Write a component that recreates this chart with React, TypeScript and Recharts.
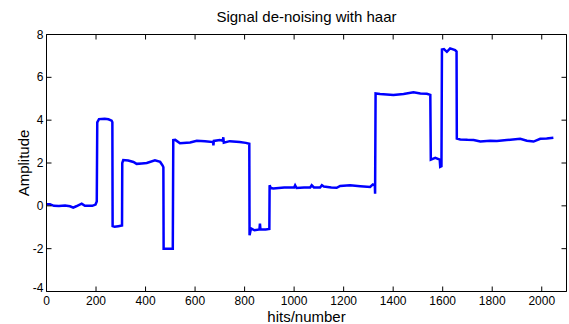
import { LineChart, Line, XAxis, YAxis, ReferenceLine } from 'recharts';

// de-noised signal (vertical jumps use repeated hit numbers)
const hits = [
  0, 14, 30, 50, 75, 95, 108, 120, 142, 155, 185, 198, 203,
  205, 212, 235, 250, 263, 266,
  267, 275, 290, 305,
  306, 310, 330, 351, 364, 385, 405, 438, 459, 469, 472,
  473, 510,
  512, 520, 539, 580, 607, 640, 673, 674, 676, 700, 712, 714, 716, 740, 780, 805, 819,
  820, 826, 840, 860, 862, 864, 885, 900,
  901, 906, 916, 960, 1000, 1004, 1010, 1040, 1065, 1071, 1080, 1105, 1112, 1120, 1150, 1172,
  1186, 1226, 1267, 1307, 1318, 1326,
  1327, 1329, 1347, 1401, 1442, 1482, 1510, 1536, 1550,
  1552, 1570, 1588, 1590, 1595,
  1597, 1605, 1617, 1630, 1650, 1656,
  1657, 1671, 1700, 1725, 1752, 1792, 1819, 1859, 1913, 1940, 1967, 1994, 2020, 2047,
];
const amplitude = [
  0.07, 0.07, 0.0, -0.01, 0.02, -0.02, -0.08, -0.02, 0.1, 0.0, 0.0, 0.06, 0.2,
  3.9, 4.05, 4.07, 4.04, 3.98, 3.9,
  -0.95, -0.98, -0.95, -0.92,
  2.0, 2.14, 2.12, 2.05, 1.96, 1.98, 2.0, 2.13, 2.05, 1.88, 1.8,
  -2.0, -2.0,
  3.07, 3.08, 2.92, 2.96, 3.04, 3.02, 2.98, 2.82, 3.03, 3.07, 3.04, 3.2, 2.95, 3.02, 2.98, 2.94, 2.9,
  -1.37, -1.05, -1.14, -1.1, -0.83, -1.1, -1.1, -1.08,
  0.96, 0.83, 0.81, 0.86, 0.86, 0.96, 0.83, 0.86, 0.86, 0.96, 0.86, 0.86, 0.96, 0.9, 0.86, 0.84,
  0.93, 0.96, 0.92, 0.88, 1.0, 0.95,
  0.57, 5.25, 5.22, 5.18, 5.22, 5.3, 5.25, 5.23, 5.18,
  2.16, 2.24, 2.16, 1.82, 1.85,
  7.3, 7.32, 7.19, 7.35, 7.27, 7.2,
  3.14, 3.1, 3.08, 3.07, 3.0, 3.04, 3.03, 3.07, 3.13, 3.04, 3.0, 3.13, 3.14, 3.18,
];

const xTicks = [0, 200, 400, 600, 800, 1000, 1200, 1400, 1600, 1800, 2000];
const yTicks = [-4, -2, 0, 2, 4, 6, 8];

const data = hits.map((h, i) => ({ hits: h, amplitude: amplitude[i] }));

const PLOT_LEFT = 46.5;
const PLOT_RIGHT = 566.5;
const PLOT_TOP = 34.5;
const PLOT_BOTTOM = 291.5;
const TICK = 5;
const FONT = '"Liberation Sans", Arial, sans-serif';

function XTick({ x, payload }: any) {
  return (
    <g>
      <line x1={x} x2={x} y1={PLOT_BOTTOM} y2={PLOT_BOTTOM - TICK} stroke="#000" />
      <line x1={x} x2={x} y1={PLOT_TOP} y2={PLOT_TOP + TICK} stroke="#000" />
      <text x={x} y={PLOT_BOTTOM + 13} textAnchor="middle" fontSize={12} fill="#000" fontFamily={FONT}>
        {payload.value}
      </text>
    </g>
  );
}

function YTick({ y, payload }: any) {
  const shift = payload.value === -4 ? -4 : 0;
  return (
    <g>
      <line x1={PLOT_LEFT} x2={PLOT_LEFT + TICK} y1={y} y2={y} stroke="#000" />
      <line x1={PLOT_RIGHT} x2={PLOT_RIGHT - TICK} y1={y} y2={y} stroke="#000" />
      <text x={PLOT_LEFT - 3} y={y + 4 + shift} textAnchor="end" fontSize={12} fill="#000" fontFamily={FONT}>
        {payload.value}
      </text>
    </g>
  );
}

export default function App() {
  return (
    <div style={{ position: 'absolute', left: 0, top: 0, width: 569, height: 324, background: '#fff' }}>
      <div
        style={{
          position: 'absolute',
          left: PLOT_LEFT,
          width: PLOT_RIGHT - PLOT_LEFT,
          top: 8,
          textAlign: 'center',
          fontFamily: FONT,
          fontSize: 15,
          lineHeight: '18px',
        }}
      >
        Signal de-noising with haar
      </div>
      <LineChart
        width={569}
        height={324}
        data={data}
        margin={{ top: 34.5, right: 2.5, bottom: 0.5, left: 0.5 }}
      >
        <XAxis
          dataKey="hits"
          type="number"
          domain={[0, 2100]}
          ticks={xTicks}
          tick={XTick}
          tickLine={false}
          axisLine={{ stroke: '#000' }}
          height={32}
          interval={0}
          label={{ value: 'hits/number', position: 'insideBottom', offset: 2, fill: '#000', fontSize: 15, fontFamily: FONT }}
        />
        <YAxis
          type="number"
          domain={[-4, 8]}
          ticks={yTicks}
          tick={YTick}
          tickLine={false}
          axisLine={{ stroke: '#000' }}
          width={46}
          interval={0}
          label={{ value: 'Amplitude', angle: -90, position: 'center', fill: '#000', fontSize: 15, fontFamily: FONT }}
        />
        <ReferenceLine y={8} stroke="#000" />
        <ReferenceLine x={2100} stroke="#000" />
        <Line
          dataKey="amplitude"
          type="linear"
          stroke="#0000ff"
          strokeWidth={2.5}
          dot={false}
          isAnimationActive={false}
        />
      </LineChart>
    </div>
  );
}
